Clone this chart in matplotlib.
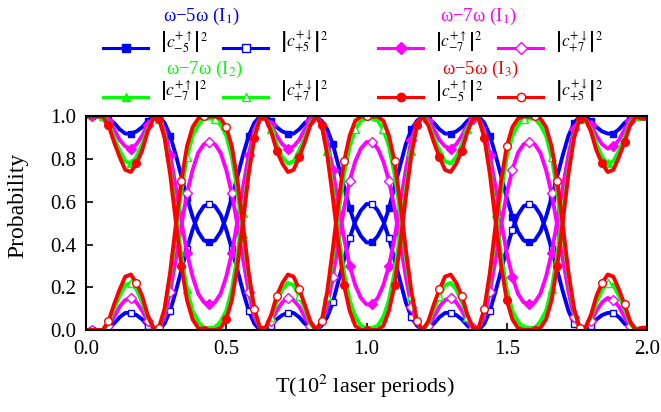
import numpy as np
import matplotlib

matplotlib.use("Agg")
import matplotlib.pyplot as plt
from matplotlib.lines import Line2D

plt.rcParams["font.family"] = ["Liberation Serif", "DejaVu Serif"]
plt.rcParams["mathtext.fontset"] = "stix"

# time axis, 10^2 laser periods
T = np.linspace(0.0, 2.0, 101)

# omega-5omega (I1): |c_-5^{+up}|^2 and |c_+5^{+down}|^2
blue_up = [
    1.00, 1.00, 1.00, 1.00, 0.99, 0.97, 0.94, 0.92, 0.92, 0.93,
    0.95, 0.98, 1.00, 1.00, 0.97, 0.91, 0.82, 0.72, 0.62, 0.53,
    0.46, 0.42, 0.41, 0.42, 0.46, 0.53, 0.62, 0.72, 0.82, 0.91,
    0.97, 1.00, 1.00, 0.98, 0.95, 0.93, 0.92, 0.92, 0.94, 0.97,
    0.99, 1.00, 0.98, 0.94, 0.87, 0.77, 0.67, 0.57, 0.49, 0.44,
    0.41, 0.41, 0.44, 0.49, 0.57, 0.67, 0.77, 0.87, 0.94, 0.98,
    1.00, 0.99, 0.97, 0.94, 0.92, 0.92, 0.93, 0.95, 0.98, 1.00,
    1.00, 0.97, 0.91, 0.82, 0.72, 0.62, 0.53, 0.46, 0.42, 0.41,
    0.42, 0.46, 0.53, 0.62, 0.72, 0.82, 0.91, 0.97, 1.00, 1.00,
    0.98, 0.95, 0.93, 0.92, 0.92, 0.94, 0.97, 0.99, 1.00, 0.99,
    0.99,
]
blue_down = [
    0.00, 0.00, 0.00, 0.00, 0.01, 0.03, 0.06, 0.08, 0.08, 0.07,
    0.05, 0.02, 0.00, 0.00, 0.03, 0.09, 0.18, 0.28, 0.38, 0.47,
    0.54, 0.58, 0.59, 0.58, 0.54, 0.47, 0.38, 0.28, 0.18, 0.09,
    0.03, 0.00, 0.00, 0.02, 0.05, 0.07, 0.08, 0.08, 0.06, 0.03,
    0.01, 0.00, 0.02, 0.06, 0.13, 0.23, 0.33, 0.43, 0.51, 0.56,
    0.59, 0.59, 0.56, 0.51, 0.43, 0.33, 0.23, 0.13, 0.06, 0.02,
    0.00, 0.01, 0.03, 0.06, 0.08, 0.08, 0.07, 0.05, 0.02, 0.00,
    0.00, 0.03, 0.09, 0.18, 0.28, 0.38, 0.47, 0.54, 0.58, 0.59,
    0.58, 0.54, 0.47, 0.38, 0.28, 0.18, 0.09, 0.03, 0.00, 0.00,
    0.02, 0.05, 0.07, 0.08, 0.08, 0.06, 0.03, 0.01, 0.00, 0.01,
    0.01,
]

# omega-7omega (I1): |c_-7^{+up}|^2 and |c_+7^{+down}|^2
mag_up = [
    1.00, 1.00, 1.00, 1.00, 0.98, 0.94, 0.89, 0.86, 0.85, 0.87,
    0.91, 0.96, 0.99, 0.99, 0.94, 0.82, 0.67, 0.51, 0.36, 0.25,
    0.17, 0.13, 0.12, 0.13, 0.17, 0.25, 0.36, 0.51, 0.67, 0.82,
    0.94, 0.99, 0.99, 0.96, 0.91, 0.87, 0.85, 0.86, 0.89, 0.94,
    0.98, 1.00, 0.97, 0.89, 0.75, 0.59, 0.43, 0.30, 0.21, 0.15,
    0.12, 0.12, 0.15, 0.21, 0.30, 0.43, 0.59, 0.75, 0.89, 0.97,
    1.00, 0.98, 0.94, 0.89, 0.86, 0.85, 0.87, 0.91, 0.96, 0.99,
    0.99, 0.94, 0.82, 0.67, 0.51, 0.36, 0.25, 0.17, 0.13, 0.12,
    0.13, 0.17, 0.25, 0.36, 0.51, 0.67, 0.82, 0.94, 0.99, 0.99,
    0.96, 0.91, 0.87, 0.85, 0.86, 0.89, 0.94, 0.98, 1.00, 0.99,
    0.99,
]
mag_down = [
    0.00, 0.00, 0.00, 0.00, 0.02, 0.06, 0.11, 0.14, 0.15, 0.13,
    0.09, 0.04, 0.01, 0.01, 0.06, 0.18, 0.33, 0.49, 0.64, 0.75,
    0.83, 0.87, 0.88, 0.87, 0.83, 0.75, 0.64, 0.49, 0.33, 0.18,
    0.06, 0.01, 0.01, 0.04, 0.09, 0.13, 0.15, 0.14, 0.11, 0.06,
    0.02, 0.00, 0.03, 0.11, 0.25, 0.41, 0.57, 0.70, 0.79, 0.85,
    0.88, 0.88, 0.85, 0.79, 0.70, 0.57, 0.41, 0.25, 0.11, 0.03,
    0.00, 0.02, 0.06, 0.11, 0.14, 0.15, 0.13, 0.09, 0.04, 0.01,
    0.01, 0.06, 0.18, 0.33, 0.49, 0.64, 0.75, 0.83, 0.87, 0.88,
    0.87, 0.83, 0.75, 0.64, 0.49, 0.33, 0.18, 0.06, 0.01, 0.01,
    0.04, 0.09, 0.13, 0.15, 0.14, 0.11, 0.06, 0.02, 0.00, 0.01,
    0.01,
]

# omega-7omega (I2)
green_up = [
    1.00, 1.00, 1.00, 1.00, 0.97, 0.90, 0.84, 0.79, 0.78, 0.81,
    0.87, 0.94, 0.99, 0.99, 0.91, 0.75, 0.55, 0.35, 0.19, 0.09,
    0.04, 0.01, 0.01, 0.01, 0.04, 0.09, 0.19, 0.35, 0.55, 0.75,
    0.91, 0.99, 0.99, 0.94, 0.87, 0.81, 0.78, 0.79, 0.84, 0.90,
    0.97, 1.00, 0.96, 0.84, 0.66, 0.45, 0.27, 0.14, 0.06, 0.02,
    0.01, 0.01, 0.02, 0.06, 0.14, 0.27, 0.45, 0.66, 0.84, 0.96,
    1.00, 0.97, 0.90, 0.84, 0.79, 0.78, 0.81, 0.87, 0.94, 0.99,
    0.99, 0.91, 0.75, 0.55, 0.35, 0.19, 0.09, 0.04, 0.01, 0.01,
    0.01, 0.04, 0.09, 0.19, 0.35, 0.55, 0.75, 0.91, 0.99, 0.99,
    0.94, 0.87, 0.81, 0.78, 0.79, 0.84, 0.90, 0.97, 1.00, 0.99,
    0.99,
]
green_down = [
    0.00, 0.00, 0.00, 0.00, 0.03, 0.10, 0.16, 0.21, 0.22, 0.19,
    0.13, 0.06, 0.01, 0.01, 0.09, 0.25, 0.45, 0.65, 0.81, 0.91,
    0.96, 0.99, 0.99, 0.99, 0.96, 0.91, 0.81, 0.65, 0.45, 0.25,
    0.09, 0.01, 0.01, 0.06, 0.13, 0.19, 0.22, 0.21, 0.16, 0.10,
    0.03, 0.00, 0.04, 0.16, 0.34, 0.55, 0.73, 0.86, 0.94, 0.98,
    0.99, 0.99, 0.98, 0.94, 0.86, 0.73, 0.55, 0.34, 0.16, 0.04,
    0.00, 0.03, 0.10, 0.16, 0.21, 0.22, 0.19, 0.13, 0.06, 0.01,
    0.01, 0.09, 0.25, 0.45, 0.65, 0.81, 0.91, 0.96, 0.99, 0.99,
    0.99, 0.96, 0.91, 0.81, 0.65, 0.45, 0.25, 0.09, 0.01, 0.01,
    0.06, 0.13, 0.19, 0.22, 0.21, 0.16, 0.10, 0.03, 0.00, 0.01,
    0.01,
]

# omega-5omega (I3)
red_up = [
    1.00, 1.00, 1.00, 1.00, 0.96, 0.88, 0.81, 0.75, 0.74, 0.78,
    0.84, 0.93, 0.99, 0.99, 0.90, 0.73, 0.51, 0.30, 0.14, 0.05,
    0.01, 0.00, 0.00, 0.00, 0.01, 0.05, 0.14, 0.30, 0.51, 0.73,
    0.90, 0.99, 0.99, 0.93, 0.84, 0.78, 0.74, 0.75, 0.81, 0.88,
    0.96, 1.00, 0.96, 0.82, 0.62, 0.40, 0.21, 0.09, 0.02, 0.00,
    0.00, 0.00, 0.00, 0.02, 0.09, 0.21, 0.40, 0.62, 0.82, 0.96,
    1.00, 0.96, 0.88, 0.81, 0.75, 0.74, 0.78, 0.84, 0.93, 0.99,
    0.99, 0.90, 0.73, 0.51, 0.30, 0.14, 0.05, 0.01, 0.00, 0.00,
    0.00, 0.01, 0.05, 0.14, 0.30, 0.51, 0.73, 0.90, 0.99, 0.99,
    0.93, 0.84, 0.78, 0.74, 0.75, 0.81, 0.88, 0.96, 1.00, 0.99,
    0.99,
]
red_down = [
    0.00, 0.00, 0.00, 0.00, 0.04, 0.12, 0.19, 0.25, 0.26, 0.22,
    0.16, 0.07, 0.01, 0.01, 0.10, 0.27, 0.49, 0.70, 0.86, 0.95,
    0.99, 1.00, 1.00, 1.00, 0.99, 0.95, 0.86, 0.70, 0.49, 0.27,
    0.10, 0.01, 0.01, 0.07, 0.16, 0.22, 0.26, 0.25, 0.19, 0.12,
    0.04, 0.00, 0.04, 0.18, 0.38, 0.60, 0.79, 0.91, 0.98, 1.00,
    1.00, 1.00, 1.00, 0.98, 0.91, 0.79, 0.60, 0.38, 0.18, 0.04,
    0.00, 0.04, 0.12, 0.19, 0.25, 0.26, 0.22, 0.16, 0.07, 0.01,
    0.01, 0.10, 0.27, 0.49, 0.70, 0.86, 0.95, 0.99, 1.00, 1.00,
    1.00, 0.99, 0.95, 0.86, 0.70, 0.49, 0.27, 0.10, 0.01, 0.01,
    0.07, 0.16, 0.22, 0.26, 0.25, 0.19, 0.12, 0.04, 0.00, 0.01,
    0.01,
]

BLUE, MAG, GREEN, RED = "#0000ff", "#ff00ff", "#00ff00", "#ff0000"
W, H = 661, 412
AX_L, AX_R, AX_T, AX_B = 86, 647, 116.5, 330


def marks(start, step):
    # indices of the grid points that carry a symbol
    return list(np.round(np.arange(start, 2.0001, step) / 0.02).astype(int))


fig = plt.figure(figsize=(W / 100, H / 100), dpi=100)
ax = fig.add_axes([AX_L / W, 1 - AX_B / H, (AX_R - AX_L) / W, (AX_B - AX_T) / H])

series = [
    (blue_up, blue_down, BLUE, "s", 5.0, marks(0.011, 0.0717)),
    (mag_up, mag_down, MAG, "D", 5.0, marks(0.011, 0.0717)),
    (green_up, green_down, GREEN, "^", 5.5, marks(0.064, 0.1)),
    (red_up, red_down, RED, "o", 5.5, marks(0.0896, 0.0835)),
]
for up, down, col, mk, ms, idx in series:
    ax.plot(T, up, color=col, lw=2.8, marker=mk, ms=ms, mfc=col, mec=col,
            markevery=idx)
    ax.plot(T, down, color=col, lw=2.8, marker=mk, ms=ms, mfc="white",
            mec=col, mew=1.0, markevery=idx)

ax.set_xlim(0, 2.0)
ax.set_ylim(0, 1.0)
ax.set_xticks([0.0, 0.5, 1.0, 1.5, 2.0])
ax.set_yticks([0.0, 0.2, 0.4, 0.6, 0.8, 1.0])
ax.xaxis.set_major_formatter(plt.FormatStrFormatter("%.1f"))
ax.yaxis.set_major_formatter(plt.FormatStrFormatter("%.1f"))
ax.tick_params(direction="in", length=5, width=1.2, labelsize=15, pad=7)
for s in ax.spines.values():
    s.set_linewidth(1.5)

ax.set_xlabel("T(10$^2$ laser periods)", fontsize=16)
ax.set_ylabel("Probability", fontsize=17)
ax.xaxis.label.set_va("center")
ax.yaxis.label.set_va("center")
ax.xaxis.set_label_coords((365 - AX_L) / (AX_R - AX_L), (AX_B - 386) / (AX_B - AX_T))
ax.yaxis.set_label_coords((18 - AX_L) / (AX_R - AX_L), (AX_B - 205) / (AX_B - AX_T))


# legend drawn by hand above the axes (pixel positions of the reference)
def fx(x):
    return x / W


def fy(y):
    return 1 - y / H


titles = [
    (201, 16, "ω−5ω (I$_1$)", BLUE),
    (204, 69, "ω−7ω (I$_2$)", GREEN),
    (478, 16, "ω−7ω (I$_1$)", MAG),
    (480, 69, "ω−5ω (I$_3$)", RED),
]
for x, y, s, col in titles:
    fig.text(fx(x), fy(y), s, color=col, fontsize=13.5, ha="center", va="center")

rows = [
    (103, 48, BLUE, "s", r"$\left|c_{-5}^{+\uparrow}\right|^2$", r"$\left|c_{+5}^{+\downarrow}\right|^2$"),
    (103, 97, GREEN, "^", r"$\left|c_{-7}^{+\uparrow}\right|^2$", r"$\left|c_{+7}^{+\downarrow}\right|^2$"),
    (378, 48, MAG, "D", r"$\left|c_{-7}^{+\uparrow}\right|^2$", r"$\left|c_{+7}^{+\downarrow}\right|^2$"),
    (378, 97, RED, "o", r"$\left|c_{-5}^{+\uparrow}\right|^2$", r"$\left|c_{+5}^{+\downarrow}\right|^2$"),
]
for x0, y, col, mk, lab1, lab2 in rows:
    for dx, face, lab in [(0, col, lab1), (120, "white", lab2)]:
        xa = x0 + dx
        fig.add_artist(Line2D([fx(xa), fx(xa + 45)], [fy(y), fy(y)],
                              color=col, lw=2.2, transform=fig.transFigure))
        fig.add_artist(Line2D([fx(xa + 22.5)], [fy(y)], marker=mk, ms=6,
                              mfc=face, mec=col, mew=1.0, color=col,
                              transform=fig.transFigure))
        fig.text(fx(xa + 57), fy(y - 6), lab, fontsize=12.5, ha="left",
                 va="center")

fig.savefig("out.png", dpi=100)
